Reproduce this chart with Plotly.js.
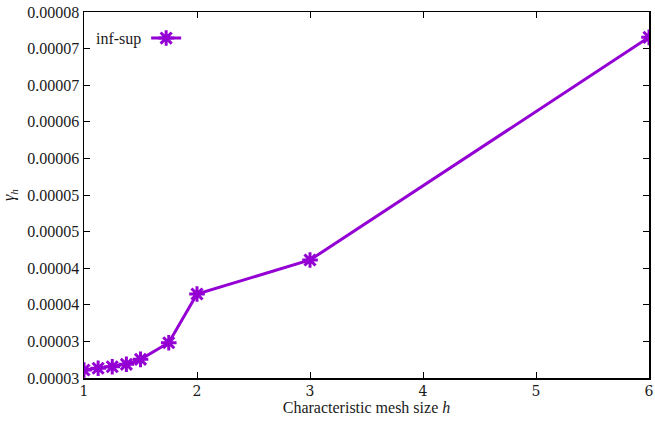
<!DOCTYPE html>
<html>
<head>
<meta charset="utf-8">
<script src="https://cdn.plot.ly/plotly-3.0.1.min.js"></script>
<style>html,body{margin:0;padding:0;background:#fff}#chart{width:655px;height:422px}</style>
</head>
<body>
<div id="chart"></div>
<script>
const meshSize = [1, 1.125, 1.25, 1.375, 1.5, 1.75, 2, 3, 6];
const gammaH = [2.609e-5, 2.633e-5, 2.654e-5, 2.687e-5, 2.755e-5, 2.982e-5, 3.648e-5, 4.112e-5, 7.154e-5];
const seriesName = 'inf-sup';
const yTickVals = [2.5e-5, 3.0e-5, 3.5e-5, 4.0e-5, 4.5e-5, 5.0e-5, 5.5e-5, 6.0e-5, 6.5e-5, 7.0e-5, 7.5e-5];
const yTickText = ['0.00003','0.00003','0.00004','0.00004','0.00005','0.00005','0.00006','0.00006','0.00007','0.00007','0.00008'];
const xTickVals = [1, 2, 3, 4, 5, 6];

const color = '#9400D3';
const txt = '#1a1a1a';

const trace = {
  x: meshSize, y: gammaH, name: '', mode: 'lines+markers', showlegend: true,
  line: {color: color, width: 3},
  marker: {symbol: 'asterisk-open', size: 13, color: color, line: {color: color, width: 3}}
};

const axisCommon = {
  showgrid: false, zeroline: false, showline: true, linecolor: '#000', linewidth: 1.5,
  mirror: 'ticks', ticks: 'inside', ticklen: 6, tickcolor: '#000', tickwidth: 1
};

const layout = {
  width: 655, height: 422,
  margin: {l: 84, r: 6, t: 12, b: 44},
  paper_bgcolor: '#fff', plot_bgcolor: '#fff',
  font: {family: 'serif', size: 16, color: txt},
  xaxis: Object.assign({}, axisCommon, {
    range: [1, 6], tickvals: xTickVals, ticktext: xTickVals.map(String),
    tickfont: {family: 'DejaVu Serif', size: 14, color: txt},
    title: {text: 'Characteristic mesh size <i>h</i>', font: {family: 'Times New Roman', size: 16, color: txt}, standoff: 2}
  }),
  yaxis: Object.assign({}, axisCommon, {
    range: [2.5e-5, 7.5e-5], tickvals: yTickVals, ticktext: yTickText,
    tickfont: {family: 'Liberation Serif', size: 16, color: txt},
    title: {text: '<i>γ</i><sub><i>h</i></sub>', font: {family: 'Liberation Serif', size: 16, color: txt}, standoff: 8}
  }),
  legend: {x: 0.11, y: 0.975, xanchor: 'left', yanchor: 'top', bgcolor: 'rgba(0,0,0,0)', borderwidth: 0,
           itemwidth: 30},
  annotations: [{
    text: seriesName, xref: 'paper', yref: 'paper', x: 0.105, y: 0.925, xanchor: 'right', yanchor: 'middle',
    showarrow: false, font: {family: 'serif', size: 16, color: txt}
  }]
};

Plotly.newPlot('chart', [trace], layout, {displayModeBar: false, staticPlot: true});
</script>
</body>
</html>
